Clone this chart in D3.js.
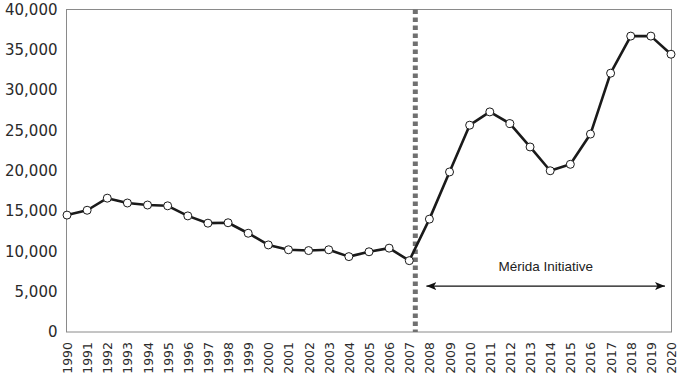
<!DOCTYPE html>
<html>
<head>
<meta charset="utf-8">
<script src="https://cdn.jsdelivr.net/npm/d3@7"></script>
<style>
  body { margin: 0; background: #fff; }
  svg { display: block; }
</style>
</head>
<body>
<div id="chart"></div>
<script>
// data
var years = d3.range(1990, 2021);
var values = [14500, 15100, 16600, 16000, 15750, 15650, 14400, 13500, 13550, 12250,
              10800, 10200, 10100, 10200, 9350, 9950, 10400, 8850, 14000, 19850,
              25650, 27300, 25850, 22950, 20000, 20800, 24550, 32100, 36700, 36700, 34450];
var yTicks = [0, 5000, 10000, 15000, 20000, 25000, 30000, 35000, 40000];
var markerYear = 2007.3;
var arrowFrom = 2007.85, arrowTo = 2019.7, arrowLevel = 5700;
var arrowLabel = "Mérida Initiative";

var W = 686, H = 384;
var plotL = 66.5, plotR = 671.5, plotT = 9.5, plotB = 332;

var svg = d3.select("#chart").append("svg")
  .attr("width", W)
  .attr("height", H);

var x = d3.scaleLinear().domain([1990, 2020]).range([67, 671]);
var y = d3.scaleLinear().domain([0, 40000]).range([plotB, plotT]);

var defs = svg.append("defs");
defs.append("marker")
  .attr("id", "head")
  .attr("viewBox", "0 0 10 10")
  .attr("refX", 10).attr("refY", 5)
  .attr("markerWidth", 10).attr("markerHeight", 10)
  .attr("markerUnits", "userSpaceOnUse")
  .attr("orient", "auto-start-reverse")
  .append("path")
  .attr("d", "M0,1 L10,5 L0,9 L2.5,5 Z")
  .attr("fill", "#111");

// frame
svg.append("rect")
  .attr("x", plotL).attr("y", plotT)
  .attr("width", plotR - plotL).attr("height", plotB - plotT)
  .attr("fill", "none")
  .attr("stroke", "#8a8a8a")
  .attr("stroke-width", 1);

// y axis labels
var yAxis = svg.append("g")
  .attr("transform", "translate(" + plotL + ",0)")
  .call(d3.axisLeft(y).tickValues(yTicks).tickSize(0).tickPadding(9)
    .tickFormat(d3.format(",")));
yAxis.select(".domain").remove();
yAxis.selectAll("text")
  .attr("font-family", "DejaVu Sans")
  .attr("font-size", 15)
  .attr("fill", "#2a2a2a");

// x axis labels, rotated
var xAxis = svg.append("g")
  .attr("transform", "translate(0," + plotB + ")")
  .call(d3.axisBottom(x).tickValues(years).tickSize(0).tickFormat(d3.format("d")));
xAxis.select(".domain").remove();
xAxis.selectAll("text")
  .attr("font-family", "DejaVu Sans")
  .attr("font-size", 12.5)
  .attr("fill", "#2a2a2a")
  .attr("transform", "rotate(-90)")
  .attr("text-anchor", "end")
  .attr("x", -10)
  .attr("y", 0)
  .attr("dy", "0.36em");

// dashed divider
svg.append("line")
  .attr("x1", x(markerYear)).attr("x2", x(markerYear))
  .attr("y1", plotT).attr("y2", plotB)
  .attr("stroke", "#707070")
  .attr("stroke-width", 5)
  .attr("stroke-dasharray", "4.5,3.5");

// series line
var pts = years.map(function(d, i) { return [d, values[i]]; });
svg.append("path")
  .datum(pts)
  .attr("fill", "none")
  .attr("stroke", "#1a1a1a")
  .attr("stroke-width", 2.6)
  .attr("stroke-linejoin", "round")
  .attr("d", d3.line().x(function(d) { return x(d[0]); }).y(function(d) { return y(d[1]); }));

svg.selectAll("circle.pt")
  .data(pts)
  .enter().append("circle")
  .attr("class", "pt")
  .attr("cx", function(d) { return x(d[0]); })
  .attr("cy", function(d) { return y(d[1]); })
  .attr("r", 4)
  .attr("fill", "#fff")
  .attr("stroke", "#1a1a1a")
  .attr("stroke-width", 1);

// annotation arrow
svg.append("line")
  .attr("x1", x(arrowFrom)).attr("x2", x(arrowTo))
  .attr("y1", y(arrowLevel)).attr("y2", y(arrowLevel))
  .attr("stroke", "#111")
  .attr("stroke-width", 1.2)
  .attr("marker-start", "url(#head)")
  .attr("marker-end", "url(#head)");

svg.append("text")
  .attr("x", (x(arrowFrom) + x(arrowTo)) / 2)
  .attr("y", y(arrowLevel) - 15)
  .attr("text-anchor", "middle")
  .attr("font-family", "Liberation Sans")
  .attr("font-size", 13.5)
  .attr("fill", "#222")
  .text(arrowLabel);
</script>
</body>
</html>
